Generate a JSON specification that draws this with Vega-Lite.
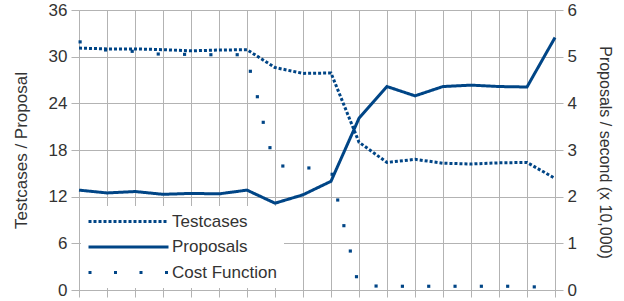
{
  "$schema": "https://vega.github.io/schema/vega-lite/v6.json",
  "width": 476,
  "height": 280,
  "autosize": {"type": "none"},
  "padding": {"left": 79, "top": 10, "right": 69, "bottom": 11},
  "background": "white",
  "config": {
    "view": {"stroke": null},
    "font": "Liberation Sans",
    "axis": {
      "gridColor": "#b3b3b3",
      "gridWidth": 1,
      "domainColor": "#b3b3b3",
      "tickColor": "#b3b3b3",
      "labelFont": "Liberation Sans",
      "labelFontSize": 17,
      "labelColor": "#333333",
      "titleFont": "Liberation Sans",
      "titleFontSize": 17,
      "titleFontWeight": "normal",
      "titleColor": "#333333"
    }
  },
  "datasets": {
    "lines": [
      {"x": 0, "testcases": 31.1, "proposals": 2.14},
      {"x": 1, "testcases": 31.0, "proposals": 2.08},
      {"x": 2, "testcases": 31.0, "proposals": 2.11},
      {"x": 3, "testcases": 30.9, "proposals": 2.05},
      {"x": 4, "testcases": 30.75, "proposals": 2.07},
      {"x": 5, "testcases": 30.85, "proposals": 2.06},
      {"x": 6, "testcases": 30.9, "proposals": 2.14},
      {"x": 7, "testcases": 28.6, "proposals": 1.86},
      {"x": 8, "testcases": 27.85, "proposals": 2.04},
      {"x": 9, "testcases": 27.9, "proposals": 2.33},
      {"x": 10, "testcases": 19.0, "proposals": 3.68},
      {"x": 11, "testcases": 16.4, "proposals": 4.36},
      {"x": 12, "testcases": 16.8, "proposals": 4.16},
      {"x": 13, "testcases": 16.3, "proposals": 4.36},
      {"x": 14, "testcases": 16.2, "proposals": 4.39},
      {"x": 15, "testcases": 16.35, "proposals": 4.36},
      {"x": 16, "testcases": 16.4, "proposals": 4.35},
      {"x": 17, "testcases": 14.35, "proposals": 5.41}
    ],
    "cost": [
      {"x": 0.04, "cost": 31.9},
      {"x": 0.95, "cost": 30.86},
      {"x": 1.9, "cost": 30.69},
      {"x": 2.83, "cost": 30.34},
      {"x": 3.77, "cost": 30.3},
      {"x": 4.71, "cost": 30.25},
      {"x": 5.65, "cost": 30.25},
      {"x": 6.12, "cost": 28.12},
      {"x": 6.37, "cost": 24.85},
      {"x": 6.58, "cost": 21.56},
      {"x": 6.82, "cost": 18.3},
      {"x": 7.28, "cost": 15.94},
      {"x": 8.21, "cost": 15.69},
      {"x": 9.04, "cost": 14.88},
      {"x": 9.24, "cost": 11.57},
      {"x": 9.46, "cost": 8.27},
      {"x": 9.69, "cost": 5.01},
      {"x": 9.91, "cost": 1.71},
      {"x": 10.61, "cost": 0.51},
      {"x": 11.55, "cost": 0.48},
      {"x": 12.49, "cost": 0.48},
      {"x": 13.43, "cost": 0.48},
      {"x": 14.37, "cost": 0.48},
      {"x": 15.31, "cost": 0.48},
      {"x": 16.26, "cost": 0.4}
    ]
  },
  "encoding": {
    "x": {
      "field": "x",
      "type": "quantitative",
      "scale": {"domain": [0, 17], "nice": false, "zero": false},
      "axis": {
        "title": null,
        "labels": false,
        "values": [0, 1, 2, 3, 4, 5, 6, 7, 8, 9, 10, 11, 12, 13, 14, 15, 16, 17],
        "tickSize": 7,
        "grid": true
      }
    }
  },
  "layer": [
    {
      "data": {"name": "lines"},
      "mark": {"type": "line", "color": "#004586", "strokeWidth": 3, "strokeCap": "butt"},
      "encoding": {
        "y": {
          "field": "testcases",
          "type": "quantitative",
          "scale": {"domain": [0, 36], "nice": false},
          "axis": {
            "title": "Testcases / Proposal",
            "values": [0, 6, 12, 18, 24, 30, 36],
            "tickSize": 8,
            "labelPadding": 4,
            "grid": true,
            "titleX": -58,
            "titleBaseline": "middle"
          }
        },
        "strokeDash": {
          "datum": "Testcases",
          "scale": {
            "domain": ["Testcases", "Proposals", "Cost Function"],
            "range": [[3, 2], [1, 0], [3, 22.5]]
          },
          "legend": {
            "title": null,
            "orient": "bottom-left",
            "offset": 2,
            "fillColor": "white",
            "padding": 7,
            "symbolType": "M-8,0H8",
            "symbolSize": 100,
            "symbolStrokeWidth": 3,
            "symbolStrokeColor": "#004586",
            "symbolFillColor": "transparent",
            "symbolOffset": 32,
            "labelOffset": 35,
            "labelFont": "Liberation Sans",
            "labelFontSize": 17,
            "labelColor": "#333333",
            "labelLimit": 300,
            "rowPadding": 7.5
          }
        }
      }
    },
    {
      "data": {"name": "lines"},
      "mark": {"type": "line", "color": "#004586", "strokeWidth": 3, "strokeJoin": "miter"},
      "encoding": {
        "y": {
          "field": "proposals",
          "type": "quantitative",
          "scale": {"domain": [0, 6], "nice": false},
          "axis": {
            "orient": "right",
            "title": "Proposals / second (x 10,000)",
            "titleFontSize": 16,
            "values": [0, 1, 2, 3, 4, 5, 6],
            "tickSize": 8,
            "labelPadding": 4,
            "grid": false,
            "titleX": 49,
            "titleY": 142,
            "titleBaseline": "middle"
          }
        },
        "strokeDash": {"datum": "Proposals"}
      }
    },
    {
      "data": {"name": "cost"},
      "mark": {"type": "point", "shape": "square", "filled": true, "size": 10, "color": "#004586", "opacity": 1},
      "encoding": {
        "y": {
          "field": "cost",
          "type": "quantitative",
          "scale": {"domain": [0, 36], "nice": false},
          "axis": null
        }
      }
    }
  ],
  "resolve": {"scale": {"y": "independent"}}
}
